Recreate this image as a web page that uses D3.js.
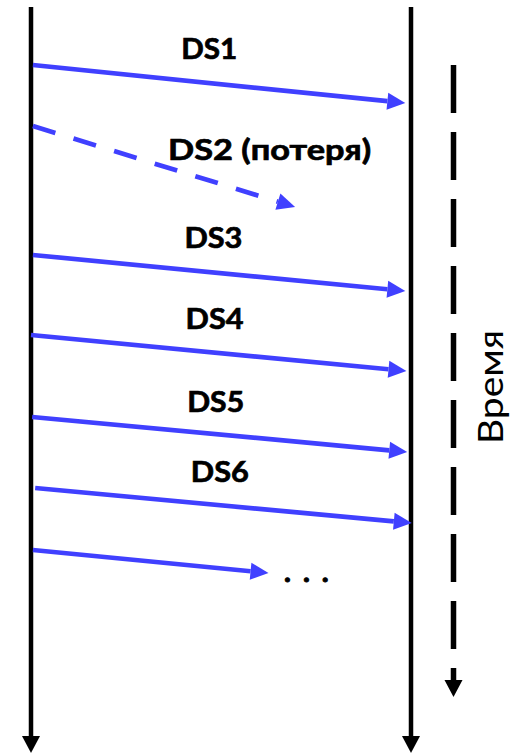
<!DOCTYPE html>
<html>
<head>
<meta charset="utf-8">
<script src="https://cdn.jsdelivr.net/npm/d3@7"></script>
<style>
  html, body { margin: 0; padding: 0; background: #ffffff; }
  svg { display: block; }
</style>
</head>
<body>
<script>
// ---- data ----
const labels   = ["DS1", "DS2 (потеря)", "DS3", "DS4", "DS5", "DS6", ""];
const lost     = [false, true, false, false, false, false, false];
const sendTime = [65, 126, 255, 335, 417, 488, 550];   // time when segment leaves sender
const recvTime = [103, 207, 291, 371, 452, 523, 573];  // time at arrow tip
const startPos = [0.005, 0.005, 0.005, 0.0, 0.003, 0.011, 0.005]; // 0 = sender, 1 = receiver
const endPos   = [0.985, 0.695, 0.985, 0.988, 0.99, 1.002, 0.625];
const labelPos  = [0.469, 0.628, 0.48, 0.483, 0.486, 0.497];
const labelTime = [59, 160, 248, 329, 412, 482];
const labelWidth = [56, 203, 58, 58, 57, 58];
const timeAxisLabel = "Время";
const ellipsis = "...";

// ---- layout ----
const W = 521, H = 754;
const x = d3.scaleLinear().domain([0, 1]).range([31, 411]);
const y = d3.scaleLinear().domain([0, 754]).range([0, 754]);

const BLUE = "#4040ff";
const svg = d3.select("body").append("svg").attr("width", W).attr("height", H);

function arrowHead(g, x1, y1, x2, y2, len, half, color) {
  const dx = x2 - x1, dy = y2 - y1, L = Math.hypot(dx, dy);
  const ux = dx / L, uy = dy / L;
  const bx = x2 - ux * len, by = y2 - uy * len;
  g.append("path")
    .attr("d", `M${x2},${y2}L${bx - uy * half},${by + ux * half}L${bx + uy * half},${by - ux * half}Z`)
    .attr("fill", color);
  return [bx, by];
}

// vertical host lines
[0, 1].forEach(p => {
  const xx = x(p);
  const [bx, by] = arrowHead(svg, xx, y(7), xx, y(753), 17, 9, "#000");
  svg.append("line").attr("x1", xx).attr("x2", xx).attr("y1", y(7)).attr("y2", by + 1)
    .attr("stroke", "#000").attr("stroke-width", 4.5);
});

// time axis
const tx = 453.5;
{
  const [bx, by] = arrowHead(svg, tx, y(65), tx, y(697), 17, 9, "#000");
  svg.append("line").attr("x1", tx).attr("x2", tx).attr("y1", y(65)).attr("y2", by + 1)
    .attr("stroke", "#000").attr("stroke-width", 5.5)
    .attr("stroke-dasharray", "48,19");
  svg.append("text")
    .attr("transform", `translate(503,${y(387)}) rotate(-90)`)
    .attr("text-anchor", "middle")
    .attr("font-family", "Lato, sans-serif")
    .attr("font-size", 35)
    .attr("textLength", 114)
    .attr("lengthAdjust", "spacingAndGlyphs")
    .attr("fill", "#000")
    .text(timeAxisLabel);
}

// segments
labels.forEach((lab, i) => {
  const x1 = x(startPos[i]), y1 = y(sendTime[i]);
  const x2 = x(endPos[i]), y2 = y(recvTime[i]);
  const [bx, by] = arrowHead(svg, x1, y1, x2, y2, 18, 8.5, BLUE);
  svg.append("line")
    .attr("x1", x1).attr("y1", y1).attr("x2", bx).attr("y2", by)
    .attr("stroke", BLUE).attr("stroke-width", 4.7)
    .attr("stroke-dasharray", lost[i] ? "23.5,19" : null);
  if (lab) {
    svg.append("text")
      .attr("x", x(labelPos[i])).attr("y", y(labelTime[i]))
      .attr("text-anchor", "middle")
      .attr("font-family", "Lato, sans-serif")
      .attr("font-weight", "bold")
      .attr("font-size", 29)
      .attr("textLength", labelWidth[i])
      .attr("lengthAdjust", "spacingAndGlyphs")
      .attr("fill", "#000")
      .attr("stroke", "#000")
      .attr("stroke-width", 0.7)
      .text(lab);
  }
});

// ellipsis after last segment
svg.append("text")
  .attr("x", 284).attr("y", y(582))
  .attr("font-family", "Lato, sans-serif")
  .attr("font-weight", "bold")
  .attr("font-size", 29)
  .attr("letter-spacing", 12)
  .attr("fill", "#000")
  .attr("stroke", "#000")
  .attr("stroke-width", 1)
  .text(ellipsis);
</script>
</body>
</html>
